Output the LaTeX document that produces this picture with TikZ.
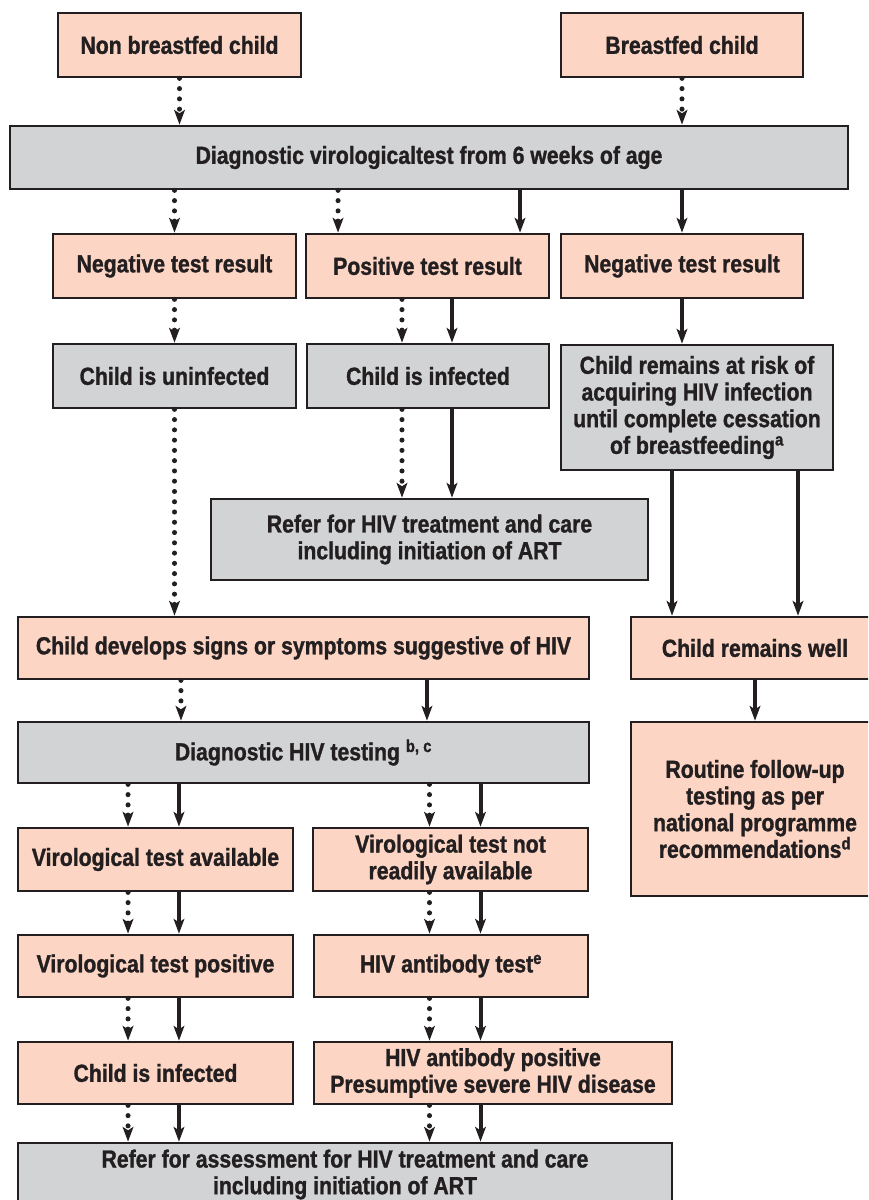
\documentclass[tikz,border=0pt]{standalone}
\usepackage{fontspec}
\setmainfont{Liberation Sans}[FakeStretch=0.86, BoldFeatures={FakeBold=1.2}]
\usepackage{xcolor}
\definecolor{salmon}{HTML}{FCD5C4}
\definecolor{grey}{HTML}{D1D3D4}
\definecolor{ink}{HTML}{231F20}
\usetikzlibrary{arrows.meta}

\tikzset{
  flowbox/.style={draw=ink, line width=2pt, text=ink, align=center, inner sep=2pt,
    font=\fontsize{18.5}{20}\selectfont\bfseries},
  pinkbox/.style={flowbox, fill=salmon},
  greybox/.style={flowbox, fill=grey},
  solidarrow/.style={-{Stealth[length=11pt,width=8pt,inset=2.5pt]}, line width=3pt, draw=ink},
  dotarrow/.style={-{Stealth[length=11pt,width=8pt,inset=2.5pt]}, line width=3.8pt, draw=ink,
    line cap=round, dash pattern=on 0pt off 7.7pt}
}

\begin{document}
\begin{tikzpicture}[x=0.75pt, y=-0.75pt]
  \useasboundingbox (0,0) rectangle (868,1200);
  \clip (0,0) rectangle (868,1200);

  % Starting points
  \node[pinkbox, minimum width=182.25pt, minimum height=48pt] (nonbf) at (179.5,45) {Non breastfed child};
  \node[pinkbox, minimum width=181.5pt, minimum height=48pt] (bf) at (682,45) {Breastfed child};
  \node[greybox, minimum width=628.5pt, minimum height=47.25pt] (virotest) at (429,157.5) {Diagnostic virologicaltest from 6 weeks of age};

  % Test results
  \node[pinkbox, minimum width=182.25pt, minimum height=48pt] (negL) at (174.5,266) {Negative test result};
  \node[pinkbox, minimum width=182.25pt, minimum height=48pt] (pos) at (427.5,266) {Positive test result};
  \node[pinkbox, minimum width=181.5pt, minimum height=48pt] (negR) at (682,266) {Negative test result};

  % Infection status
  \node[greybox, minimum width=182.25pt, minimum height=48pt] (uninf) at (174.5,376) {Child is uninfected};
  \node[greybox, minimum width=181.5pt, minimum height=48pt] (inf) at (428,376) {Child is infected};
  \node[greybox, minimum width=204pt, minimum height=93.75pt] (risk) at (697,407.5) {Child remains at risk of\\acquiring HIV infection\\until complete cessation\\of breastfeeding\textsuperscript{a}};
  \node[greybox, minimum width=327.75pt, minimum height=60.75pt] (referA) at (429.5,539.5) {Refer for HIV treatment and care\\including initiation of ART};

  % Follow-up
  \node[pinkbox, minimum width=428.25pt, minimum height=46.5pt] (develops) at (303.5,648) {Child develops signs or symptoms suggestive of HIV};
  \node[pinkbox, minimum width=186pt, minimum height=46.5pt] (well) at (755,648) {Child remains well};
  \node[pinkbox, minimum width=186pt, minimum height=130.5pt] (routine) at (755,809) {Routine follow-up\\testing as per\\national programme\\recommendations\textsuperscript{d}};
  \node[greybox, minimum width=428.25pt, minimum height=45.75pt] (hivtest) at (303.5,752.5) {Diagnostic HIV testing \textsuperscript{b, c}};

  % Left and right testing columns
  \node[pinkbox, minimum width=206.25pt, minimum height=47.25pt] (viravail) at (155.5,859.5) {Virological test available};
  \node[pinkbox, minimum width=206.25pt, minimum height=47.25pt] (virnot) at (450.5,859.5) {Virological test not\\readily available};
  \node[pinkbox, minimum width=206.25pt, minimum height=46.5pt] (virpos) at (155.5,966) {Virological test positive};
  \node[pinkbox, minimum width=205.5pt, minimum height=46.5pt] (abtest) at (451,966) {HIV antibody test\textsuperscript{e}};
  \node[pinkbox, minimum width=206.25pt, minimum height=46.5pt] (infB) at (155.5,1073) {Child is infected};
  \node[pinkbox, minimum width=268.5pt, minimum height=46.5pt] (abpos) at (493,1073) {HIV antibody positive\\Presumptive severe HIV disease};
  \node[greybox, minimum width=490.5pt, minimum height=47.25pt] (referB) at (345,1174.5) {Refer for assessment for HIV treatment and care\\including initiation of ART};

  % Column lines for the lower part
  \coordinate (ldot) at ([xshift=-20.6pt]viravail.north);
  \coordinate (lsol) at ([xshift=17.6pt]viravail.north);
  \coordinate (rdot) at ([xshift=-15.75pt]virnot.north);
  \coordinate (rsol) at ([xshift=22.5pt]virnot.north);

  % Arrows, upper part
  \draw[dotarrow] (nonbf.south) -- (nonbf.south |- virotest.north);
  \draw[dotarrow] (bf.south) -- (bf.south |- virotest.north);
  \draw[dotarrow] (negL.north |- virotest.south) -- (negL.north);
  \draw[dotarrow] ([xshift=-67.1pt]pos.north |- virotest.south) -- ([xshift=-67.1pt]pos.north);
  \draw[solidarrow] ([xshift=69.4pt]pos.north |- virotest.south) -- ([xshift=69.4pt]pos.north);
  \draw[solidarrow] (negR.north |- virotest.south) -- (negR.north);
  \draw[dotarrow] (negL.south) -- (uninf.north);
  \draw[dotarrow] ([xshift=-19.5pt]inf.north |- pos.south) -- ([xshift=-19.5pt]inf.north);
  \draw[solidarrow] ([xshift=18pt]inf.north |- pos.south) -- ([xshift=18pt]inf.north);
  \draw[solidarrow] (negR.south) -- (negR.south |- risk.north);

  % Arrows, middle part
  \draw[dotarrow] (uninf.south) -- (uninf.south |- develops.north);
  \draw[dotarrow] ([xshift=-19.5pt]inf.south) -- ([xshift=-19.5pt]inf.south |- referA.north);
  \draw[solidarrow] ([xshift=18pt]inf.south) -- ([xshift=18pt]inf.south |- referA.north);
  \draw[solidarrow] ([xshift=-18.75pt]risk.south) -- ([xshift=-18.75pt]risk.south |- well.north);
  \draw[solidarrow] ([xshift=75.75pt]risk.south) -- ([xshift=75.75pt]risk.south |- well.north);
  \draw[dotarrow] ([xshift=-91.9pt]develops.south) -- ([xshift=-91.9pt]develops.south |- hivtest.north);
  \draw[solidarrow] ([xshift=92.6pt]develops.south) -- ([xshift=92.6pt]develops.south |- hivtest.north);
  \draw[solidarrow] (well.south) -- (routine.north);

  % Arrows, lower part
  \draw[dotarrow] (hivtest.south -| ldot) -- (viravail.north -| ldot);
  \draw[solidarrow] (hivtest.south -| lsol) -- (viravail.north -| lsol);
  \draw[dotarrow] (viravail.south -| ldot) -- (virpos.north -| ldot);
  \draw[solidarrow] (viravail.south -| lsol) -- (virpos.north -| lsol);
  \draw[dotarrow] (virpos.south -| ldot) -- (infB.north -| ldot);
  \draw[solidarrow] (virpos.south -| lsol) -- (infB.north -| lsol);
  \draw[dotarrow] (infB.south -| ldot) -- (referB.north -| ldot);
  \draw[solidarrow] (infB.south -| lsol) -- (referB.north -| lsol);
  \draw[dotarrow] (hivtest.south -| rdot) -- (virnot.north -| rdot);
  \draw[solidarrow] (hivtest.south -| rsol) -- (virnot.north -| rsol);
  \draw[dotarrow] (virnot.south -| rdot) -- (abtest.north -| rdot);
  \draw[solidarrow] (virnot.south -| rsol) -- (abtest.north -| rsol);
  \draw[dotarrow] (abtest.south -| rdot) -- (abpos.north -| rdot);
  \draw[solidarrow] (abtest.south -| rsol) -- (abpos.north -| rsol);
  \draw[dotarrow] (abpos.south -| rdot) -- (referB.north -| rdot);
  \draw[solidarrow] (abpos.south -| rsol) -- (referB.north -| rsol);
\end{tikzpicture}
\end{document}
